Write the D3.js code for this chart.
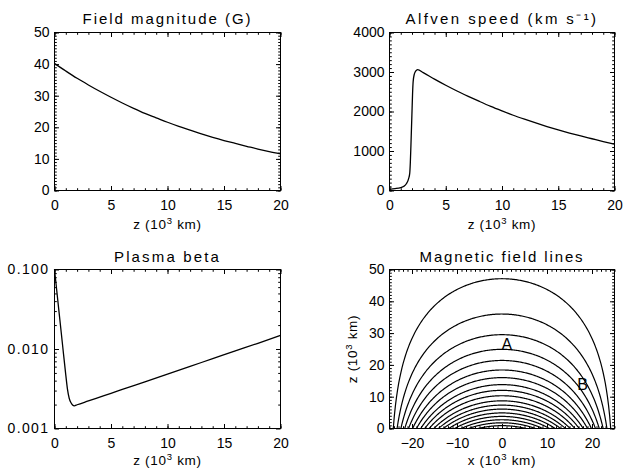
<!DOCTYPE html>
<html><head><meta charset="utf-8">
<script src="https://cdn.jsdelivr.net/npm/d3@7"></script>
<style>
body{margin:0;background:#fff}
svg{display:block}
text{font-family:"Liberation Sans",Arial,sans-serif;fill:#000}
</style></head><body>
<svg id="c" width="638" height="470"></svg>
<script>
// ---------------- data ----------------
const zField = [0,1,2,3,4,5,6,7,8,9,10,11,12,13,14,15,16,17,18,19,20];
const fieldB = [40.2,37.8,35.5,33.4,31.4,29.5,27.7,26.0,24.4,23.0,21.6,20.3,19.1,17.9,16.8,15.8,14.9,14.0,13.1,12.3,11.6];

const zAlfven = [0,0.5,1.0,1.25,1.5,1.7,1.8,1.85,1.9,1.95,2.0,2.05,2.1,2.2,2.3,2.4,2.5,3,4,5,6,7,8,9,10,11,12,13,14,15,16,17,18,19,20];
const alfvenSpeed = [30,48,75,100,170,300,440,700,1100,1550,2000,2450,2750,2940,3010,3045,3060,2985,2820,2665,2520,2385,2255,2130,2015,1905,1805,1710,1620,1535,1455,1380,1310,1240,1175];

const zBeta = [0,0.2,0.4,0.6,0.8,1.0,1.15,1.3,1.45,1.6,1.75,2,3,4,5,6,8,10,12,14,16,18,20];
const plasmaBeta = [0.1,0.054,0.0293,0.0159,0.0086,0.0047,0.0031,0.0024,0.00212,0.00198,0.00193,0.00199,0.00222,0.00248,0.00277,0.0031,0.00387,0.00484,0.00605,0.00756,0.00945,0.0118,0.0148];

// apex heights of the plotted field lines (10^3 km)
const fieldLineApex = [47.1,36.0,29.5,24.9,21.4,18.4,16.0,13.8,12.0,10.3,8.7,7.35,6.1,4.9,3.8,2.75,1.8,0.9];
const fieldScaleHeight = 16;   // 10^3 km
const arcadeHalfWidth = 25;    // 10^3 km
const fieldLabels = ["A","B"];
const fieldLabelX = [1.1,17.9];
const fieldLabelZ = [24.6,12.0];

const zTicks = [0,5,10,15,20];
const fieldTicks = [0,10,20,30,40,50];
const alfvenTicks = [0,1000,2000,3000,4000];
const betaTicks = [0.001,0.01,0.1];
const xLineTicks = [-20,-10,0,10,20];
const zLineTicks = [0,10,20,30,40,50];

const titles = ["Field magnitude (G)","Alfven speed (km s\u207B\u00B9)","Plasma beta","Magnetic field lines"];

// ---------------- drawing ----------------
const svg = d3.select("#c");
const TL = 4.5, TLm = 2.3, FS = 14;

const L = {x0:54.5, x1:280.5}, R = {x0:389.5, x1:614.5};
const T = {y0:32.5, y1:190.5}, B = {y0:269.5, y1:428.5};

function fitWidth(sel, target){
  const n = sel.node();
  const nat = n.getComputedTextLength();
  const cnt = n.textContent.length;
  sel.attr("letter-spacing", ((target-nat)/cnt).toFixed(2)+"px");
}

function frame(xs, ys, xMaj, xMin, yMaj, yMin, yFmt, xFmt){
  const g = svg.append("g");
  const xr = xs.range(), yr = ys.range();
  const add = (axis, tr) => {
    const a = g.append("g").attr("transform", tr).call(axis);
    a.select(".domain").remove();
    a.selectAll("line").attr("stroke","#000").attr("stroke-width",1);
    a.selectAll("text").attr("font-size",FS).attr("font-family",'"Liberation Sans",Arial,sans-serif').attr("fill","#000");
    return a;
  };
  // bottom
  add(d3.axisBottom(xs).tickValues(xMaj).tickSize(-TL).tickPadding(9.5).tickFormat(xFmt), `translate(0,${yr[0]})`);
  add(d3.axisBottom(xs).tickValues(xMin).tickSize(-TLm).tickFormat(""), `translate(0,${yr[0]})`);
  // top
  add(d3.axisTop(xs).tickValues(xMaj).tickSize(-TL).tickFormat(""), `translate(0,${yr[1]})`);
  add(d3.axisTop(xs).tickValues(xMin).tickSize(-TLm).tickFormat(""), `translate(0,${yr[1]})`);
  // left
  add(d3.axisLeft(ys).tickValues(yMaj).tickSize(-TL).tickPadding(5).tickFormat(yFmt), `translate(${xr[0]},0)`);
  add(d3.axisLeft(ys).tickValues(yMin).tickSize(-TLm).tickFormat(""), `translate(${xr[0]},0)`);
  // right
  add(d3.axisRight(ys).tickValues(yMaj).tickSize(-TL).tickFormat(""), `translate(${xr[1]},0)`);
  add(d3.axisRight(ys).tickValues(yMin).tickSize(-TLm).tickFormat(""), `translate(${xr[1]},0)`);
  g.append("rect").attr("x",xr[0]).attr("y",yr[1]).attr("width",xr[1]-xr[0]).attr("height",yr[0]-yr[1])
    .attr("fill","none").attr("stroke","#000").attr("stroke-width",1);
  return g;
}

function title(txt, cx, y, w){
  const t = svg.append("text").attr("x",cx).attr("y",y).attr("text-anchor","middle").attr("font-size",15).text(txt);
  fitWidth(t, w);
}

function axisTitle(prefix, cx, y, rotate){
  const t = svg.append("text").attr("text-anchor","middle").attr("font-size",13.5);
  if (rotate) t.attr("transform",`translate(${cx},${y}) rotate(-90)`);
  else t.attr("x",cx).attr("y",y);
  t.append("tspan").text(prefix+" (10");
  t.append("tspan").attr("font-size",9.5).attr("dy",-5).text("3");
  t.append("tspan").attr("dy",5).text(" km)");
  t.attr("letter-spacing","0.7px");
}

const lin = d3.range(0,20.001,1);
const fmt0 = d3.format("d");

// Panel 1
{
  const xs = d3.scaleLinear([0,20],[L.x0,L.x1]);
  const ys = d3.scaleLinear([0,50],[T.y1,T.y0]);
  frame(xs, ys, zTicks, lin, fieldTicks, d3.range(0,50.001,1), fmt0, fmt0);
  svg.append("path").datum(zField.map((z,i)=>[z,fieldB[i]]))
    .attr("d", d3.line().x(d=>xs(d[0])).y(d=>ys(d[1])).curve(d3.curveMonotoneX))
    .attr("fill","none").attr("stroke","#000").attr("stroke-width",1.3);
  title(titles[0], (L.x0+L.x1)/2, 24, 170);
  axisTitle("z", (L.x0+L.x1)/2, 229, false);
}
// Panel 2
{
  const xs = d3.scaleLinear([0,20],[R.x0,R.x1]);
  const ys = d3.scaleLinear([0,4000],[T.y1,T.y0]);
  frame(xs, ys, zTicks, lin, alfvenTicks, d3.range(0,4000.1,100), fmt0, fmt0);
  svg.append("path").datum(zAlfven.map((z,i)=>[z,alfvenSpeed[i]]))
    .attr("d", d3.line().x(d=>xs(d[0])).y(d=>ys(d[1])).curve(d3.curveMonotoneX))
    .attr("fill","none").attr("stroke","#000").attr("stroke-width",1.3);
  title(titles[1], (R.x0+R.x1)/2, 24, 193);
  axisTitle("z", (R.x0+R.x1)/2, 229, false);
}
// Panel 3
{
  const xs = d3.scaleLinear([0,20],[L.x0,L.x1]);
  const ys = d3.scaleLog([0.001,0.1],[B.y1,B.y0]);
  const minors = ys.ticks().filter(v => !betaTicks.some(t => Math.abs(t-v) < 1e-12));
  frame(xs, ys, zTicks, lin, betaTicks, minors, d3.format(".3f"), fmt0);
  svg.append("path").datum(zBeta.map((z,i)=>[z,plasmaBeta[i]]))
    .attr("d", d3.line().x(d=>xs(d[0])).y(d=>ys(d[1])).curve(d3.curveMonotoneX))
    .attr("fill","none").attr("stroke","#000").attr("stroke-width",1.3);
  svg.selectAll("g text").filter(function(){return /^0\.\d{3}$/.test(this.textContent);}).attr("letter-spacing","1.4px");
  title(titles[2], (L.x0+L.x1)/2, 262, 107);
  axisTitle("z", (L.x0+L.x1)/2, 465, false);
}
// Panel 4
{
  const xs = d3.scaleLinear([-arcadeHalfWidth,arcadeHalfWidth],[R.x0,R.x1]);
  const ys = d3.scaleLinear([0,50],[B.y1,B.y0]);
  frame(xs, ys, xLineTicks, d3.range(-25,25.001,1), zLineTicks, d3.range(0,50.001,1), fmt0, fmt0);
  const k = Math.PI/(2*arcadeHalfWidth);
  const line = d3.line().x(d=>xs(d[0])).y(d=>ys(d[1]));
  fieldLineApex.forEach(h => {
    const xf = Math.acos(Math.exp(-h/fieldScaleHeight))/k;
    const pts = d3.range(0,201).map(j => {
      const x = -xf + 2*xf*j/200;
      const c = Math.cos(k*x);
      const z = Math.max(0, h + fieldScaleHeight*Math.log(Math.max(c,1e-9)));
      return [x,z];
    });
    pts[0][1] = 0; pts[200][1] = 0;
    svg.append("path").datum(pts).attr("d",line).attr("fill","none").attr("stroke","#000").attr("stroke-width",1.2);
  });
  fieldLabels.forEach((lab,i) => {
    svg.append("text").attr("x",xs(fieldLabelX[i])).attr("y",ys(fieldLabelZ[i])).attr("text-anchor","middle")
      .attr("font-size",16).text(lab);
  });
  title(titles[3], (R.x0+R.x1)/2, 262, 165);
  axisTitle("x", (R.x0+R.x1)/2, 465, false);
  axisTitle("z", 356.5, (B.y0+B.y1)/2, true);
}
</script>
</body></html>
